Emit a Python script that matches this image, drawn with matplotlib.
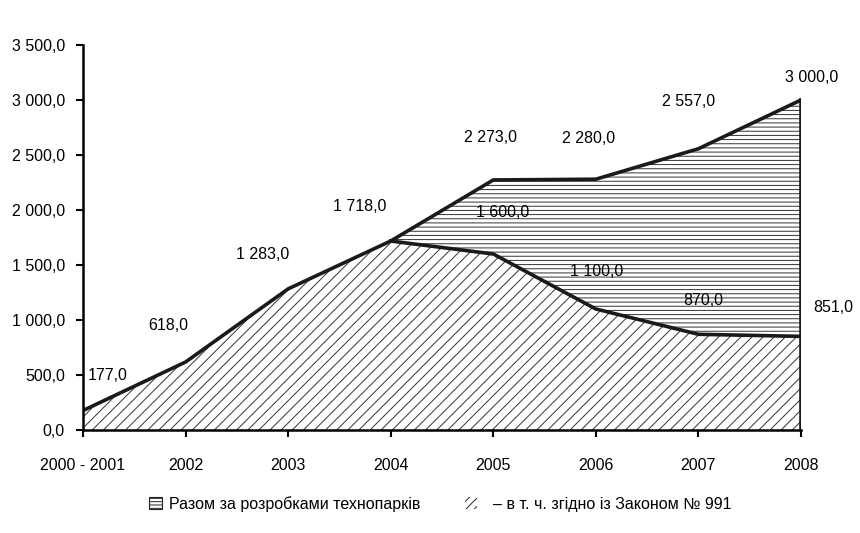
import matplotlib
matplotlib.use("Agg")
import matplotlib.pyplot as plt
from matplotlib.patches import Patch
from matplotlib.ticker import FuncFormatter

plt.rcParams['font.family'] = ['Liberation Sans', 'DejaVu Sans']
plt.rcParams['hatch.linewidth'] = 0.7

years = ["2000 - 2001", "2002", "2003", "2004", "2005", "2006", "2007", "2008"]
total = [177.0, 618.0, 1283.0, 1718.0, 2273.0, 2280.0, 2557.0, 3000.0]
law991 = [177.0, 618.0, 1283.0, 1718.0, 1600.0, 1100.0, 870.0, 851.0]
yticks = [0, 500, 1000, 1500, 2000, 2500, 3000, 3500]

# label offsets in pixels (dx, dy)
total_off = [(25, 35), (-17, 37), (-26, 34), (-31, 35), (-3, 42), (-7, 41), (-10, 47), (11, 22)]
law_off = [None, None, None, None, (9, 41), (1, 37), (5, 34), (32, 29)]

FS = 11.5


def fmt(v, pos=None):
    s = f"{v:,.1f}"
    return s.replace(",", " ").replace(".", ",")


fig = plt.figure(figsize=(8.6, 5.33), dpi=100)
ax = fig.add_axes([83 / 860, 1 - 430 / 533, (801 - 83) / 860, (430 - 45) / 533])

x = list(range(len(years)))
ax.fill_between(x, law991, total, facecolor='white', edgecolor='#333333', hatch='----', linewidth=0)
ax.fill_between(x, 0, law991, facecolor='white', edgecolor='#333333', hatch='///', linewidth=0)
ax.plot(x, total, color='#1a1a1a', lw=2.6, solid_joinstyle='miter')
ax.plot(x[3:], law991[3:], color='#1a1a1a', lw=2.6)
ax.plot([x[-1], x[-1]], [0, total[-1]], color='#1a1a1a', lw=2.6)

for i, v in enumerate(total):
    dx, dy = total_off[i]
    ax.annotate(fmt(v), (x[i], v), xytext=(dx * 0.72, dy * 0.72), textcoords='offset points',
                ha='center', va='center', fontsize=FS)
for i, v in enumerate(law991):
    if law_off[i] is None:
        continue
    dx, dy = law_off[i]
    ax.annotate(fmt(v), (x[i], v), xytext=(dx * 0.72, dy * 0.72), textcoords='offset points',
                ha='center', va='center', fontsize=FS)

ax.set_xlim(0, len(years) - 1)
ax.set_ylim(0, 3500)
ax.set_xticks(x)
ax.set_xticklabels(years)
ax.set_yticks(yticks)
ax.yaxis.set_major_formatter(FuncFormatter(fmt))
ax.tick_params(axis='y', direction='out', length=5, width=1.5, pad=8, labelsize=FS)
ax.tick_params(axis='x', direction='out', length=5, width=1.5, pad=15, labelsize=FS)
for side in ['top', 'right']:
    ax.spines[side].set_visible(False)
for side in ['left', 'bottom']:
    ax.spines[side].set_linewidth(1.8)

handles = [Patch(facecolor='white', edgecolor='#222222', hatch='-----', lw=0.8),
           Patch(facecolor='white', edgecolor='#222222', hatch='////', lw=0)]
labels = ["Разом за розробками технопарків", "  – в т. ч. згідно із Законом № 991"]
fig.legend(handles, labels, loc='center left', bbox_to_anchor=(135 / 860, 1 - 504 / 533),
           ncol=2, frameon=False, fontsize=FS, handlelength=0.8, handleheight=0.8,
           handletextpad=0.4, columnspacing=2.8)

fig.savefig("out.png", dpi=100)
